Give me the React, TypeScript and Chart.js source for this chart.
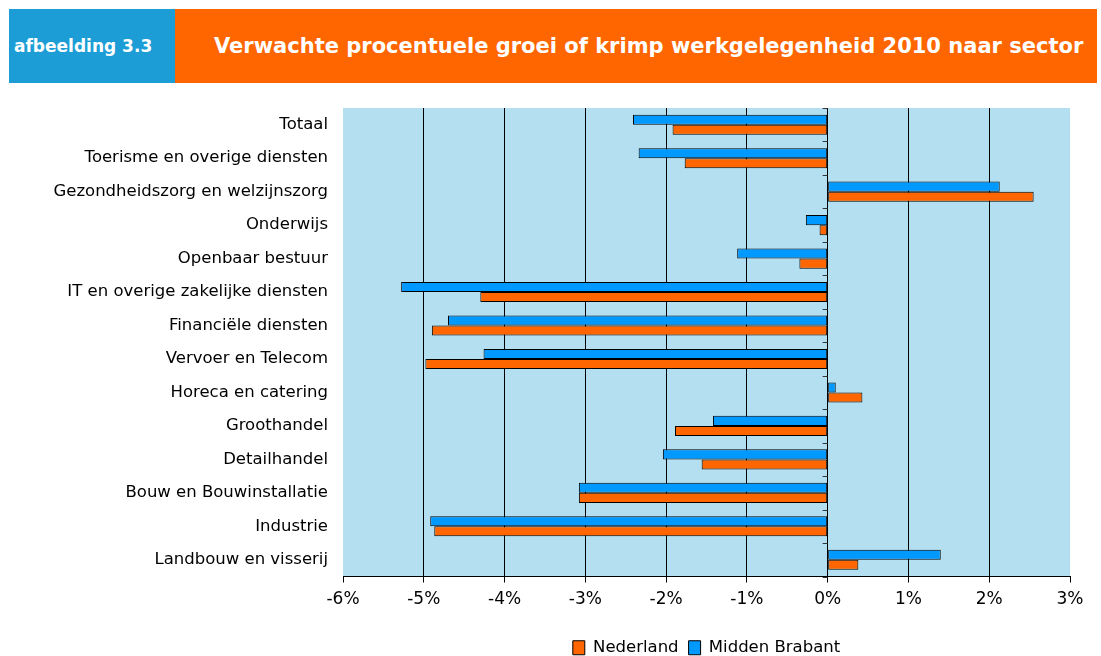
import React, { useEffect, useRef } from "react";
import { Chart, registerables } from "chart.js";

Chart.register(...registerables);

const categories = [
  "Totaal",
  "Toerisme en overige diensten",
  "Gezondheidszorg en welzijnszorg",
  "Onderwijs",
  "Openbaar bestuur",
  "IT en overige zakelijke diensten",
  "Financiële diensten",
  "Vervoer en Telecom",
  "Horeca en catering",
  "Groothandel",
  "Detailhandel",
  "Bouw en Bouwinstallatie",
  "Industrie",
  "Landbouw en visserij",
];

const middenBrabant = [-2.41, -2.34, 2.13, -0.27, -1.12, -5.28, -4.7, -4.26, 0.1, -1.42, -2.04, -3.08, -4.92, 1.4];
const nederland = [-1.92, -1.77, 2.55, -0.1, -0.35, -4.3, -4.9, -4.98, 0.43, -1.89, -1.56, -3.08, -4.87, 0.38];

const xMin = -6;
const xMax = 3;

const titleText = "Verwachte procentuele groei of krimp werkgelegenheid 2010 naar sector";
const figureLabel = "afbeelding 3.3";

const FONT = "'DejaVu Sans', Verdana, sans-serif";

const plotBg = {
  id: "plotBg",
  beforeDraw(chart: any) {
    const { ctx, chartArea } = chart;
    ctx.save();
    ctx.fillStyle = "#b3dff0";
    ctx.fillRect(chartArea.left, chartArea.top, chartArea.right - chartArea.left, chartArea.bottom - chartArea.top);
    ctx.restore();
  },
};

const zeroTicks = {
  id: "zeroTicks",
  afterDatasetsDraw(chart: any) {
    const { ctx, chartArea, scales } = chart;
    const x0 = scales.x.getPixelForValue(0);
    const n = categories.length;
    const band = (chartArea.bottom - chartArea.top) / n;
    ctx.save();
    ctx.strokeStyle = "#333";
    ctx.lineWidth = 1;
    ctx.beginPath();
    for (let i = 0; i <= n; i++) {
      const y = Math.round(chartArea.top + i * band) + 0.5;
      ctx.moveTo(x0 - 5, y);
      ctx.lineTo(x0, y);
    }
    ctx.stroke();
    ctx.restore();
  },
};

export default function App() {
  const ref = useRef<HTMLCanvasElement | null>(null);

  useEffect(() => {
    if (!ref.current) return;
    const chart = new Chart(ref.current, {
      type: "bar",
      data: {
        labels: categories,
        datasets: [
          {
            label: "Midden Brabant",
            data: middenBrabant,
            backgroundColor: "#0099ff",
            borderColor: "#000",
            borderWidth: 1,
            borderSkipped: false,
          },
          {
            label: "Nederland",
            data: nederland,
            backgroundColor: "#ff6600",
            borderColor: "#000",
            borderWidth: 1,
            borderSkipped: false,
          },
        ],
      },
      options: {
        indexAxis: "y",
        animation: false,
        responsive: false,
        maintainAspectRatio: false,
        datasets: { bar: { barPercentage: 1, categoryPercentage: 0.6 } },
        layout: { padding: { top: 108, right: 31, left: 0, bottom: -10 } },
        scales: {
          x: {
            min: xMin,
            max: xMax,
            ticks: {
              stepSize: 1,
              color: "#000",
              font: { family: FONT, size: 17 },
              padding: 7,
              callback: (v: any) => `${v}%`,
            },
            grid: {
              color: (c: any) =>
                c.tick && (c.tick.value === xMin || c.tick.value === xMax) ? "rgba(0,0,0,0)" : "#000",
              tickColor: "#000",
              tickLength: 6,
              lineWidth: 1,
            },
            border: { display: true, color: "#000" },
            afterFit: (s: any) => {
              s.height = 53;
            },
          },
          y: {
            ticks: {
              color: "#000",
              font: { family: FONT, size: 16.5 },
              padding: 7,
            },
            grid: { display: false },
            border: { display: false },
            afterFit: (s: any) => {
              s.width = 343;
            },
          },
        },
        plugins: {
          legend: {
            position: "bottom",
            fullSize: false,
            reverse: true,
            labels: {
              color: "#000",
              font: { family: FONT, size: 16.5 },
              boxWidth: 12,
              boxHeight: 14,
              padding: 10,
            },
          },
          tooltip: { enabled: false },
        },
      },
      plugins: [plotBg, zeroTicks],
    });
    return () => chart.destroy();
  }, []);

  return (
    <div style={{ position: "fixed", left: 0, top: 0, width: 1101, height: 656, background: "#fff" }}>
      <canvas ref={ref} width={1101} height={656} style={{ position: "absolute", left: 0, top: 0 }} />
      <div
        style={{
          position: "absolute",
          left: 9,
          top: 9,
          width: 166,
          height: 74,
          background: "#1c9dd6",
          color: "#fff",
          fontFamily: FONT,
          fontWeight: "bold",
          fontSize: 17,
          display: "flex",
          alignItems: "center",
          paddingLeft: 5,
          boxSizing: "border-box",
          whiteSpace: "nowrap",
        }}
      >
        {figureLabel}
      </div>
      <div
        style={{
          position: "absolute",
          left: 175,
          top: 9,
          width: 922,
          height: 74,
          background: "#ff6600",
          color: "#fff",
          fontFamily: FONT,
          fontWeight: "bold",
          fontSize: 21,
          display: "flex",
          alignItems: "center",
          paddingLeft: 39,
          boxSizing: "border-box",
          whiteSpace: "nowrap",
        }}
      >
        {titleText}
      </div>
    </div>
  );
}
